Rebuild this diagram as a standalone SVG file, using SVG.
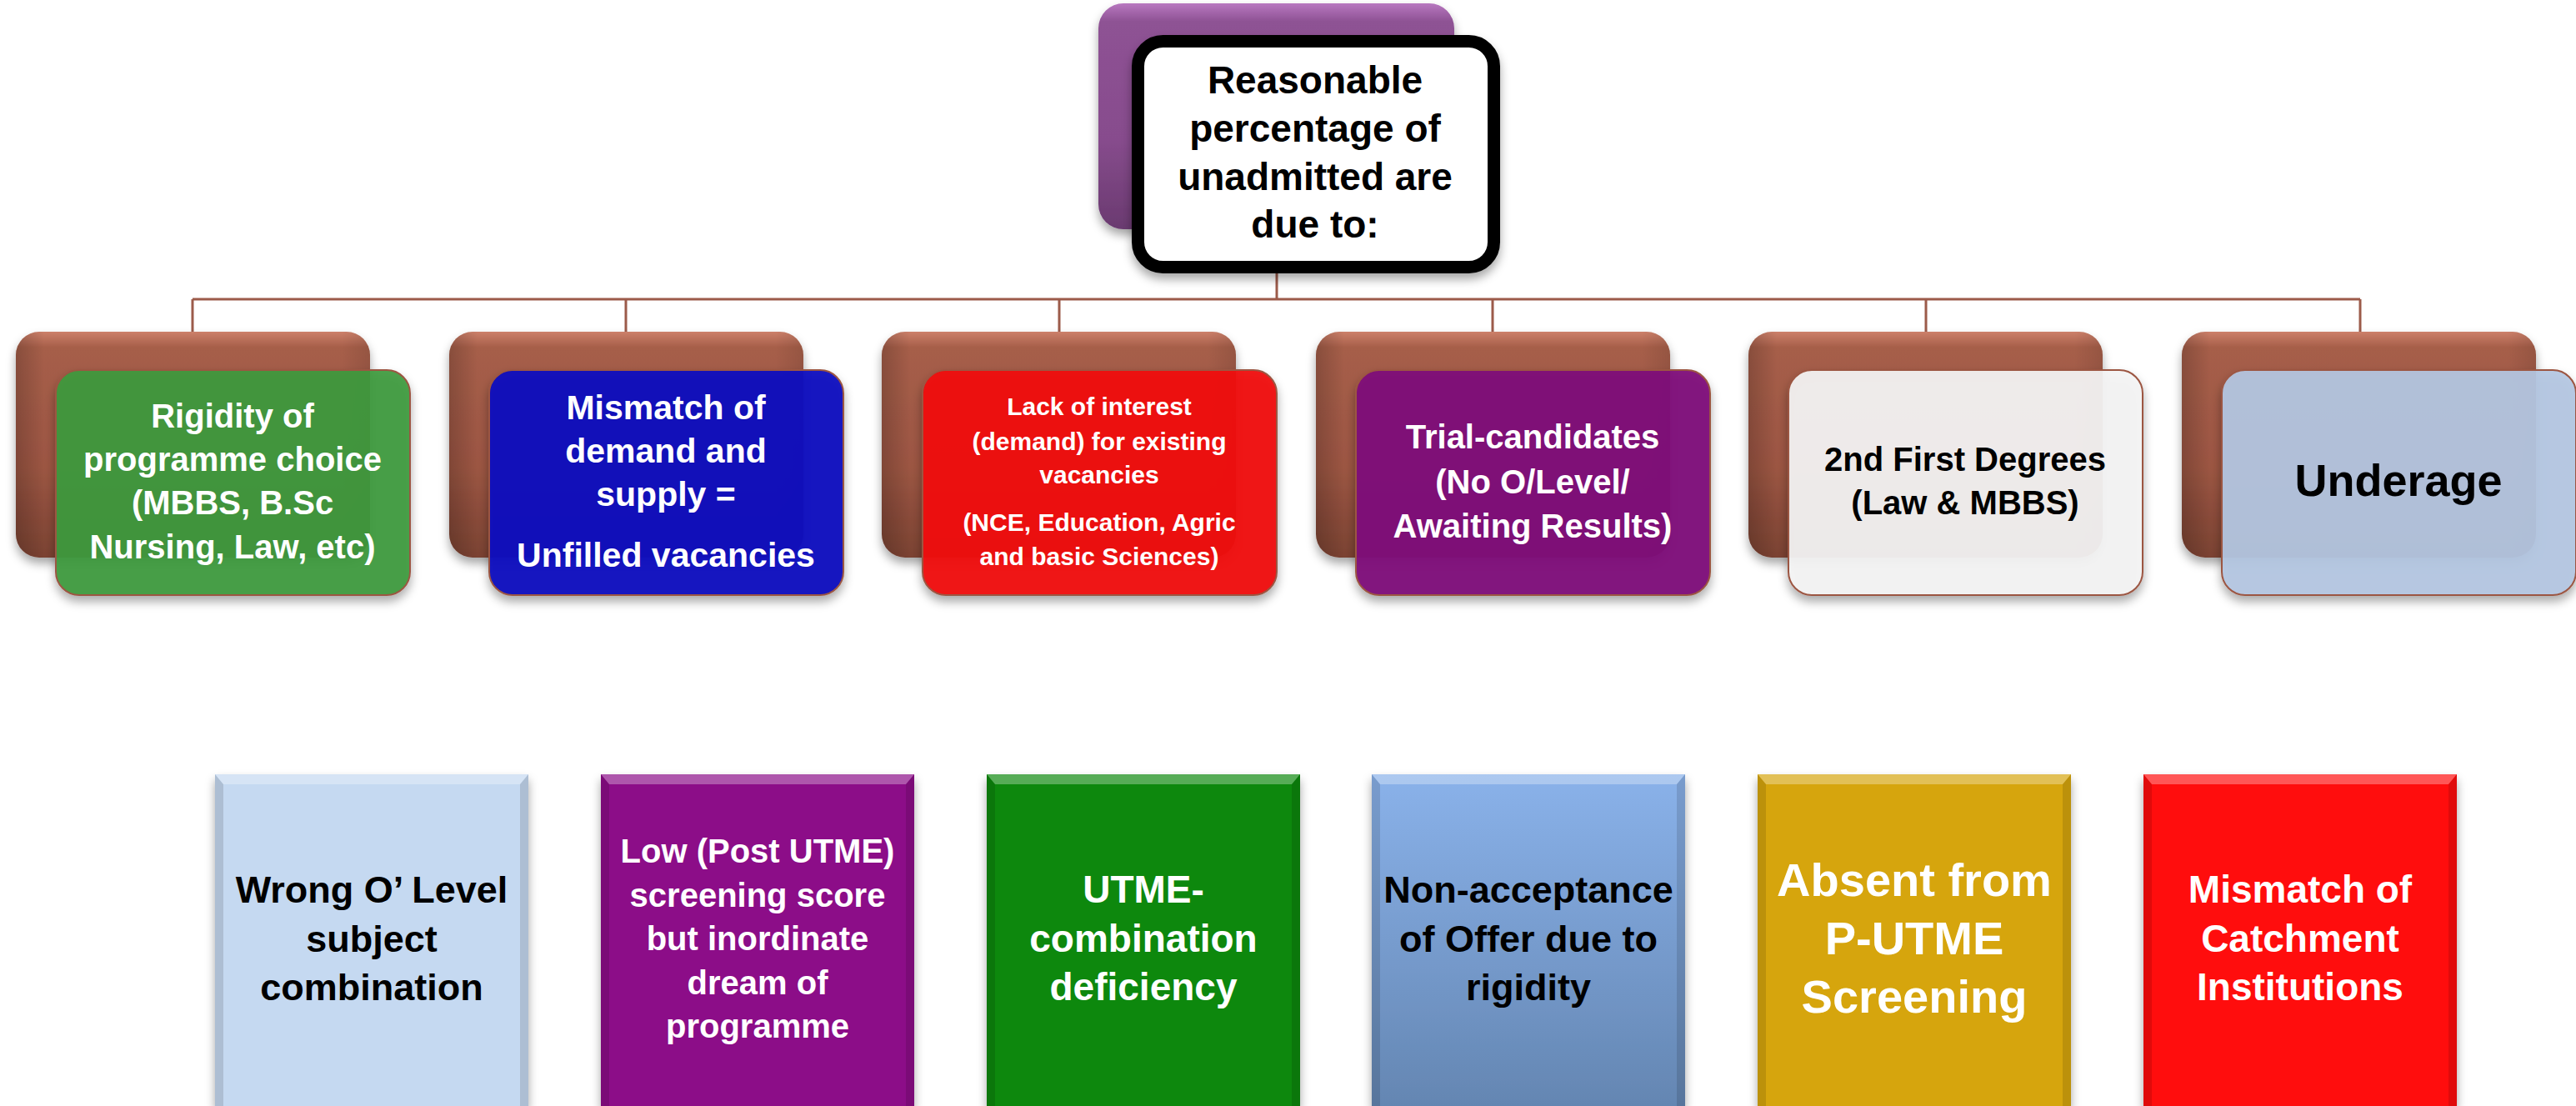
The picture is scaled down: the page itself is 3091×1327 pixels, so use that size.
<svg xmlns="http://www.w3.org/2000/svg" width="3091" height="1327" viewBox="0 0 3091 1327">
<defs>
<linearGradient id="brown" x1="0" y1="0" x2="0" y2="1">
<stop offset="0" stop-color="#CC806A"/>
<stop offset="0.07" stop-color="#A65E49"/>
<stop offset="0.6" stop-color="#9C5643"/>
<stop offset="1" stop-color="#7A4232"/>
</linearGradient>
<linearGradient id="brownSide" x1="0" y1="0" x2="1" y2="0">
<stop offset="0" stop-color="#000" stop-opacity="0.18"/>
<stop offset="0.08" stop-color="#000" stop-opacity="0"/>
<stop offset="0.92" stop-color="#000" stop-opacity="0"/>
<stop offset="1" stop-color="#000" stop-opacity="0.1"/>
</linearGradient>
<linearGradient id="purpleTop" x1="0" y1="0" x2="0" y2="1">
<stop offset="0" stop-color="#B878C0"/>
<stop offset="0.08" stop-color="#8E5294"/>
<stop offset="0.6" stop-color="#874C8D"/>
<stop offset="1" stop-color="#6A3A70"/>
</linearGradient>
<linearGradient id="b4grad" x1="0" y1="0" x2="0" y2="1">
<stop offset="0" stop-color="#8AB2EA"/>
<stop offset="1" stop-color="#6486B2"/>
</linearGradient>
<filter id="sh" x="-10%" y="-10%" width="120%" height="125%">
<feDropShadow dx="0" dy="7" stdDeviation="6" flood-color="#000" flood-opacity="0.35"/>
</filter>
</defs>
<style>
.back{fill:url(#brown);filter:url(#sh)}
.backside{fill:url(#brownSide)}
.front{stroke:#9C5643;stroke-width:2;filter:url(#sh)}
.t{font-family:"Liberation Sans",Arial,sans-serif;font-weight:bold;text-anchor:middle}
.w{fill:#FFFFFF}
.k{fill:#000000}
.conn{stroke:#9C5B4A;stroke-width:3;fill:none}
.bar{filter:url(#sh)}
.hl{fill:#FFFFFF;fill-opacity:0.3}
.dk{fill:#000000;fill-opacity:0.12}
</style>
<rect width="3091" height="1327" fill="#FFFFFF"/>

<g id="connectors">
<path class="conn" d="M1532 328 V359"/>
<path class="conn" d="M231 359 H2832"/>
<path class="conn" d="M231 359 V398 M751 359 V398 M1271 359 V398 M1791 359 V398 M2311 359 V398 M2832 359 V398"/>
</g>

<g id="root">
<rect x="1318" y="4" width="427" height="271" rx="30" fill="url(#purpleTop)" filter="url(#sh)"/>
<rect x="1365.5" y="49.5" width="427" height="271" rx="30" fill="#FFFFFF" stroke="#000000" stroke-width="15" filter="url(#sh)"/>
<text class="t k" font-size="46"><tspan x="1578" y="112">Reasonable</tspan><tspan x="1578" y="170">percentage of</tspan><tspan x="1578" y="228">unadmitted are</tspan><tspan x="1578" y="285">due to:</tspan></text>
</g>

<g id="n1">
<rect class="back" x="19" y="398" width="425" height="271" rx="28"/>
<rect class="backside" x="19" y="398" width="425" height="271" rx="28"/>
<rect class="front" x="67" y="444" width="425" height="270" rx="28" fill="#3C9A3C" fill-opacity="0.92"/>
<text class="t w" font-size="40"><tspan x="279" y="513">Rigidity of</tspan><tspan x="279" y="565">programme choice</tspan><tspan x="279" y="617">(MBBS, B.Sc</tspan><tspan x="279" y="670">Nursing, Law, etc)</tspan></text>
</g>

<g id="n2">
<rect class="back" x="539" y="398" width="425" height="271" rx="28"/>
<rect class="backside" x="539" y="398" width="425" height="271" rx="28"/>
<rect class="front" x="587" y="444" width="425" height="270" rx="28" fill="#0A0ABF" fill-opacity="0.95"/>
<text class="t w" font-size="41"><tspan x="799" y="503">Mismatch of</tspan><tspan x="799" y="555">demand and</tspan><tspan x="799" y="607">supply =</tspan><tspan x="799" y="680">Unfilled vacancies</tspan></text>
</g>

<g id="n3">
<rect class="back" x="1058" y="398" width="425" height="271" rx="28"/>
<rect class="backside" x="1058" y="398" width="425" height="271" rx="28"/>
<rect class="front" x="1107" y="444" width="425" height="270" rx="28" fill="#F00A0A" fill-opacity="0.95"/>
<text class="t w" font-size="30"><tspan x="1319" y="498">Lack of interest</tspan><tspan x="1319" y="540">(demand) for existing</tspan><tspan x="1319" y="580">vacancies</tspan><tspan x="1319" y="637">(NCE, Education, Agric</tspan><tspan x="1319" y="678">and basic Sciences)</tspan></text>
</g>

<g id="n4">
<rect class="back" x="1579" y="398" width="425" height="271" rx="28"/>
<rect class="backside" x="1579" y="398" width="425" height="271" rx="28"/>
<rect class="front" x="1627" y="444" width="425" height="270" rx="28" fill="#7E0A7A" fill-opacity="0.95"/>
<text class="t w" font-size="40"><tspan x="1839" y="538">Trial-candidates</tspan><tspan x="1839" y="592">(No O/Level/</tspan><tspan x="1839" y="645">Awaiting Results)</tspan></text>
</g>

<g id="n5">
<rect class="back" x="2098" y="398" width="425" height="271" rx="28"/>
<rect class="backside" x="2098" y="398" width="425" height="271" rx="28"/>
<rect class="front" x="2146" y="444" width="425" height="270" rx="28" fill="#F4F4F4" fill-opacity="0.93"/>
<text class="t k" font-size="40"><tspan x="2358" y="565">2nd First Degrees</tspan><tspan x="2358" y="617">(Law &amp; MBBS)</tspan></text>
</g>

<g id="n6">
<rect class="back" x="2618" y="398" width="425" height="271" rx="28"/>
<rect class="backside" x="2618" y="398" width="425" height="271" rx="28"/>
<rect class="front" x="2666" y="444" width="425" height="270" rx="28" fill="#B4C7E2" fill-opacity="0.93"/>
<text class="t k" font-size="54"><tspan x="2878" y="595">Underage</tspan></text>
</g>

<g id="b1">
<rect class="bar" x="258" y="929" width="376" height="398" fill="#C5D9F1"/>
<polygon class="hl" points="258,929 634,929 624,941 268,941"/>
<polygon class="dk" points="258,929 268,941 268,1327 258,1327"/>
<polygon class="dk" points="634,929 624,941 624,1327 634,1327"/>
<text class="t k" font-size="45"><tspan x="446" y="1083">Wrong O’ Level</tspan><tspan x="446" y="1142">subject</tspan><tspan x="446" y="1200">combination</tspan></text>
</g>

<g id="b2">
<rect class="bar" x="721" y="929" width="376" height="398" fill="#8C0A88"/>
<polygon class="hl" points="721,929 1097,929 1087,941 731,941"/>
<polygon class="dk" points="721,929 731,941 731,1327 721,1327"/>
<polygon class="dk" points="1097,929 1087,941 1087,1327 1097,1327"/>
<text class="t w" font-size="40"><tspan x="909" y="1035">Low (Post UTME)</tspan><tspan x="909" y="1088">screening score</tspan><tspan x="909" y="1140">but inordinate</tspan><tspan x="909" y="1193">dream of</tspan><tspan x="909" y="1245">programme</tspan></text>
</g>

<g id="b3">
<rect class="bar" x="1184" y="929" width="376" height="398" fill="#07880A"/>
<polygon class="hl" points="1184,929 1560,929 1550,941 1194,941"/>
<polygon class="dk" points="1184,929 1194,941 1194,1327 1184,1327"/>
<polygon class="dk" points="1560,929 1550,941 1550,1327 1560,1327"/>
<text class="t w" font-size="46"><tspan x="1372" y="1083">UTME-</tspan><tspan x="1372" y="1142">combination</tspan><tspan x="1372" y="1200">deficiency</tspan></text>
</g>

<g id="b4">
<rect class="bar" x="1646" y="929" width="376" height="398" fill="url(#b4grad)"/>
<polygon class="hl" points="1646,929 2022,929 2012,941 1656,941"/>
<polygon class="dk" points="1646,929 1656,941 1656,1327 1646,1327"/>
<polygon class="dk" points="2022,929 2012,941 2012,1327 2022,1327"/>
<text class="t k" font-size="45"><tspan x="1834" y="1083">Non-acceptance</tspan><tspan x="1834" y="1142">of Offer due to</tspan><tspan x="1834" y="1200">rigidity</tspan></text>
</g>

<g id="b5">
<rect class="bar" x="2109" y="929" width="376" height="398" fill="#D6A507"/>
<polygon class="hl" points="2109,929 2485,929 2475,941 2119,941"/>
<polygon class="dk" points="2109,929 2119,941 2119,1327 2109,1327"/>
<polygon class="dk" points="2485,929 2475,941 2475,1327 2485,1327"/>
<text class="t w" font-size="56"><tspan x="2297" y="1075">Absent from</tspan><tspan x="2297" y="1145">P-UTME</tspan><tspan x="2297" y="1215">Screening</tspan></text>
</g>

<g id="b6">
<rect class="bar" x="2572" y="929" width="376" height="398" fill="#FF0808"/>
<polygon class="hl" points="2572,929 2948,929 2938,941 2582,941"/>
<polygon class="dk" points="2572,929 2582,941 2582,1327 2572,1327"/>
<polygon class="dk" points="2948,929 2938,941 2938,1327 2948,1327"/>
<text class="t w" font-size="46"><tspan x="2760" y="1083">Mismatch of</tspan><tspan x="2760" y="1142">Catchment</tspan><tspan x="2760" y="1200">Institutions</tspan></text>
</g>
</svg>
